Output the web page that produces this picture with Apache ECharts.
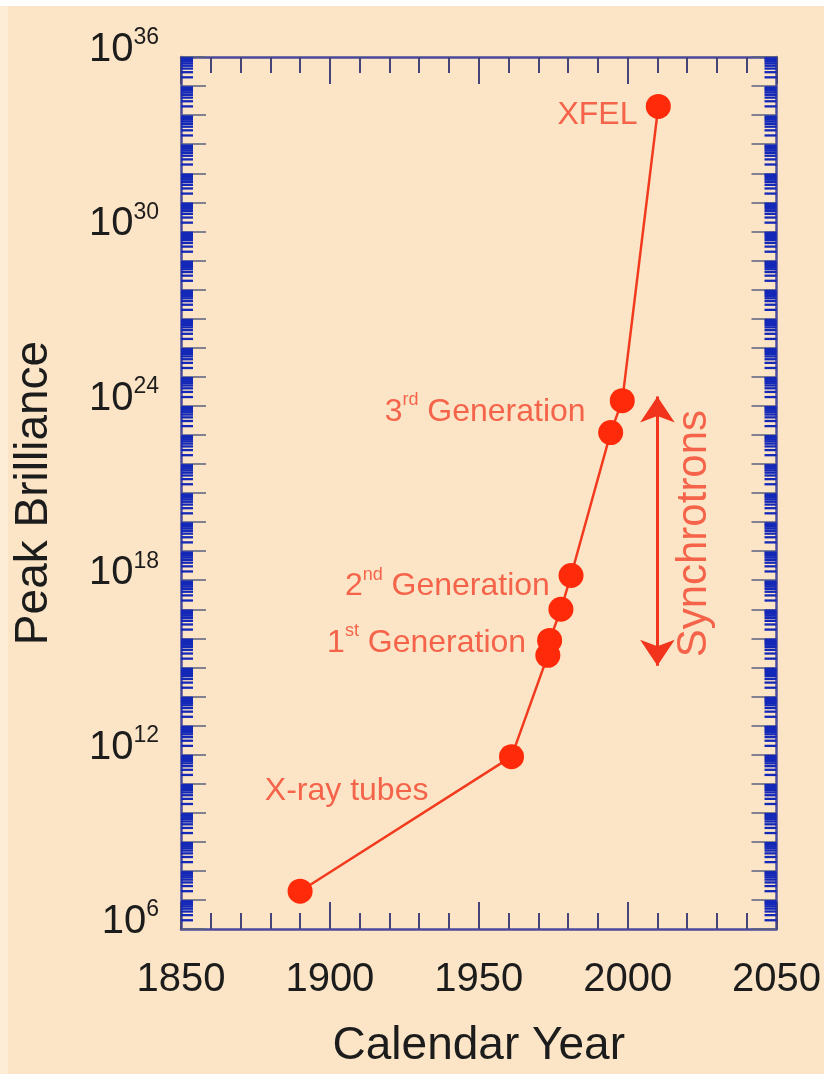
<!DOCTYPE html>
<html>
<head>
<meta charset="utf-8">
<script src="https://cdn.jsdelivr.net/npm/echarts@6/dist/echarts.min.js"></script>
<style>
  html, body { margin: 0; padding: 0; background: #ffffff; }
  #chart { width: 824px; height: 1074px; }
</style>
</head>
<body>
<div id="chart"></div>
<script>
// Peak brilliance of X-ray sources over time
const years = [1890, 1961, 1973.2, 1973.8, 1977.6, 1981, 1994.3, 1998.2, 2010.3];
const brilliance = [2e7, 8.5e11, 2.6e15, 8.5e15, 1e17, 1.45e18, 1.2e23, 1.5e24, 2e34];

// Source labels (rich text) and the point each label's right edge sits on
const noteTexts = [
  '{n|XFEL}',
  '{n|3}{s|rd}{n| Generation}',
  '{n|2}{s|nd}{n| Generation}',
  '{n|1}{s|st}{n| Generation}',
  '{n|X-ray tubes}'
];
const noteYears = [2003.3, 1985.9, 1973.9, 1965.9, 1933.1];
const noteValues = [1e34, 6e23, 6e17, 7e15, 5.5e10];

// Synchrotron range arrow and its caption
const arrowYear = 2010;
const arrowRange = [1.15e15, 2.1e24];
const synchrotronText = 'Synchrotrons';
const synchrotronAnchor = [2022.3, 4e19];

// Axis ranges and titles
const yearRange = [1850, 2050];
const brillianceRange = [1e6, 1e36];
const xTitle = 'Calendar Year';
const yTitle = 'Peak Brilliance';

const FONT = 'Liberation Sans, Arial, Helvetica, sans-serif';
const INK = '#1c1c1c';
const RED = '#ff2a0a';
const NOTE_RED = '#f2432a';
const FRAME = '#4a4a9c';
const MINOR_BLUE = '#1428b8';

// Log-scale minor tick values (2..9 per decade)
const minorTickValues = [];
for (let e = Math.log10(brillianceRange[0]); e < Math.log10(brillianceRange[1]); e++) {
  for (let k = 2; k <= 9; k++) minorTickValues.push([yearRange[0], k * Math.pow(10, e)]);
}

const chart = echarts.init(document.getElementById('chart'), null, { renderer: 'canvas' });

const yLabelFormatter = v => {
  const e = Math.round(Math.log10(v));
  return e % 6 === 0 ? '{b|10}{e|' + e + '}' : '';
};

const xAxisBase = {
  type: 'value',
  min: yearRange[0],
  max: yearRange[1],
  interval: 50,
  axisLine: { show: true, lineStyle: { color: FRAME, width: 2.5 } },
  axisTick: { show: true, inside: true, length: 27, lineStyle: { color: '#45457a', width: 2 } },
  minorTick: { show: true, splitNumber: 5, length: 16, lineStyle: { color: '#45457a', width: 2 } },
  splitLine: { show: false },
  minorSplitLine: { show: false }
};

const yAxisBase = {
  type: 'log',
  logBase: 10,
  min: brillianceRange[0],
  max: brillianceRange[1],
  interval: 1,
  axisLine: { show: true, lineStyle: { color: FRAME, width: 2.5 } },
  axisTick: { show: true, inside: true, length: 25, lineStyle: { color: '#5a6080', width: 1.5 } },
  splitLine: { show: false }
};

chart.setOption({
  backgroundColor: '#fce5c6',
  animation: false,
  textStyle: { fontFamily: FONT },
  graphic: [
    { type: 'rect', left: 0, top: 0, shape: { width: 824, height: 6 }, style: { fill: '#ffffff' }, z: 100 },
    { type: 'rect', left: 0, top: 6, shape: { width: 8, height: 1068 }, style: { fill: '#fdecd6' }, z: 100 }
  ],
  grid: { left: 181, right: 44, top: 57, bottom: 143, containLabel: false },
  xAxis: [
    Object.assign({}, xAxisBase, {
      position: 'bottom',
      name: xTitle,
      nameLocation: 'middle',
      nameGap: 94,
      nameTextStyle: { fontSize: 46, color: INK, fontFamily: FONT },
      axisLabel: {
        show: true, margin: 31, fontSize: 40, color: INK, fontFamily: FONT,
        showMinLabel: true, showMaxLabel: true,
        formatter: v => String(v)
      }
    }),
    Object.assign({}, xAxisBase, { position: 'top', axisLabel: { show: false } })
  ],
  yAxis: [
    Object.assign({}, yAxisBase, {
      position: 'left',
      name: yTitle,
      nameLocation: 'middle',
      nameGap: 124,
      nameTextStyle: { fontSize: 46, color: INK, fontFamily: FONT },
      axisLabel: {
        show: true, margin: 22, color: INK, fontFamily: FONT,
        showMinLabel: true, showMaxLabel: true,
        padding: [0, 0, 14, 0],
        formatter: yLabelFormatter,
        rich: {
          b: { fontSize: 40, lineHeight: 47, color: INK, fontFamily: FONT },
          e: { fontSize: 23, lineHeight: 47, verticalAlign: 'top', color: INK, fontFamily: FONT }
        }
      }
    }),
    Object.assign({}, yAxisBase, { position: 'right', axisLabel: { show: false } })
  ],
  series: [
    {
      // minor log ticks on both vertical frame edges
      type: 'custom',
      xAxisIndex: 0,
      yAxisIndex: 0,
      silent: true,
      clip: false,
      data: minorTickValues,
      renderItem: (params, api) => {
        const v = api.value(1);
        const pl = api.coord([yearRange[0], v]);
        const pr = api.coord([yearRange[1], v]);
        const style = { stroke: MINOR_BLUE, lineWidth: 2.3 };
        return {
          type: 'group',
          children: [
            { type: 'line', shape: { x1: pl[0], y1: pl[1], x2: pl[0] + 12, y2: pl[1] }, style: style },
            { type: 'line', shape: { x1: pr[0], y1: pr[1], x2: pr[0] - 12, y2: pr[1] }, style: style }
          ]
        };
      },
      z: 3
    },
    {
      name: 'Peak Brilliance',
      type: 'line',
      data: years.map((y, i) => [y, brilliance[i]]),
      symbol: 'circle',
      symbolSize: 25,
      itemStyle: { color: RED },
      lineStyle: { color: '#f23a1e', width: 2.5 },
      z: 5
    },
    {
      name: 'notes',
      type: 'scatter',
      symbolSize: 0,
      silent: true,
      data: noteYears.map((y, i) => ({ value: [y, noteValues[i]], text: noteTexts[i] })),
      label: {
        show: true,
        position: 'left',
        distance: 0,
        align: 'right',
        verticalAlign: 'middle',
        formatter: p => p.data.text,
        rich: {
          n: { fontSize: 32, lineHeight: 42, color: NOTE_RED, fontFamily: FONT },
          s: { fontSize: 18, lineHeight: 42, verticalAlign: 'top', color: NOTE_RED, fontFamily: FONT }
        }
      },
      markLine: {
        silent: true,
        symbol: ['arrow', 'arrow'],
        symbolSize: 26,
        label: { show: false },
        lineStyle: { color: '#f2341c', width: 3, type: 'solid' },
        data: [[
          { coord: [arrowYear, arrowRange[1]] },
          { coord: [arrowYear, arrowRange[0]] }
        ]]
      },
      z: 6
    },
    {
      name: 'synchrotrons',
      type: 'scatter',
      symbolSize: 0,
      silent: true,
      data: [synchrotronAnchor],
      label: {
        show: true,
        position: 'inside',
        rotate: 90,
        align: 'center',
        verticalAlign: 'middle',
        formatter: synchrotronText,
        fontSize: 42,
        color: NOTE_RED,
        fontFamily: FONT
      },
      z: 6
    }
  ]
});
</script>
</body>
</html>
